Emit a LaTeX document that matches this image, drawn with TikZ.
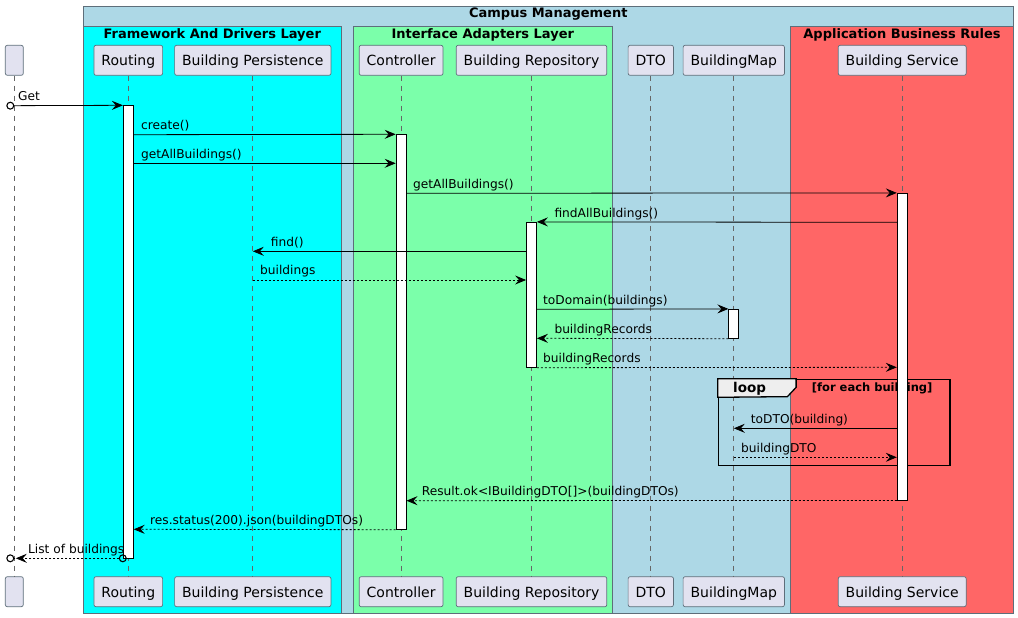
\documentclass[tikz,border=0pt]{standalone}
\usepackage{fontspec}
\setmainfont{DejaVu Sans}
\usetikzlibrary{arrows.meta,positioning}
\definecolor{campus}{HTML}{ADD8E6}
\definecolor{framework}{HTML}{00FFFF}
\definecolor{adapters}{HTML}{7BFFAA}
\definecolor{rules}{HTML}{FF6666}
\definecolor{partfill}{HTML}{E2E2F0}
\definecolor{tabfill}{HTML}{EEEEEE}
\definecolor{edge}{HTML}{5E6E7A}

\begin{document}
\begin{tikzpicture}[x=1pt,y=-1pt,
  msghead/.tip={Stealth[length=11pt,width=9pt,inset=4pt]},
  lost/.tip={Circle[open,length=8pt,width=8pt,line width=1.1pt]},
  layer/.style={draw=edge,line width=0.6pt},
  part/.style={draw=edge,fill=partfill,rounded corners=2pt,line width=0.7pt,minimum height=30pt,minimum width=18pt,inner xsep=7.5pt,text height=14pt,text depth=3.2pt,font=\fontsize{14}{16}\selectfont},
  life/.style={draw=black!60,line width=0.7pt,dash pattern=on 5pt off 5pt},
  act/.style={draw=black,fill=white,line width=0.8pt,minimum width=10pt,inner sep=0pt},
  msg/.style={line width=0.8pt,-{msghead}},
  reply/.style={msg,dash pattern=on 2pt off 2pt},
  lbl/.style={anchor=base west,inner sep=0pt,font=\fontsize{12.2}{14}\selectfont},
  title/.style={anchor=base,inner sep=0pt,font=\bfseries\fontsize{13}{15}\selectfont}]
  \useasboundingbox (0,0) rectangle (1018,618);
  \draw[layer,fill=campus] (83.3,6.3) rectangle (1013.3,613.3);
  \draw[layer,fill=framework] (83.3,26.3) rectangle (341.3,613.3);
  \draw[layer,fill=adapters] (353.3,26.3) rectangle (612.3,613.3);
  \draw[layer,fill=rules] (790.7,26.3) rectangle (1013.3,613.3);
  \node[title] (campusT) at (548.3,17.8) {Campus Management};
  \node[title] (frameworkT) at (212.3,38.8) {Framework And Drivers Layer};
  \node[title] (adaptersT) at (482.8,38.8) {Interface Adapters Layer};
  \node[title] (rulesT) at (902,38.8) {Application Business Rules};

  \foreach \n/\x/\t in {anon/14.3/{}, route/128.3/Routing, persist/252.8/Building Persistence, ctrl/401.1/Controller, repo/531.5/Building Repository, dto/650.8/DTO, map/733.8/BuildingMap, service/902.2/Building Service} {
    \node[part] (\n) at (\x,60.3) {\t};
    \node[part] (\n-end) at (\x,591.7) {\t};
    \draw[life] (\n) -- (\n-end);
  }

  \node[draw,line width=1.3pt,minimum width=231.7pt,minimum height=86.4pt,inner sep=0pt] (loop) at (834.2,422.5) {};
  \draw[line width=1.3pt,fill=tabfill] (loop.north west) -- ++(78.4,0) -- ++(0,8.7) -- ++(-8.7,9.3) -- (loop.north west |- 0,397.3) -- cycle;
  \node[anchor=base west,inner sep=0pt,font=\bfseries\fontsize{13.5}{15}\selectfont] (loopT) at (733,392.6) {loop};
  \node[anchor=base west,inner sep=0pt,font=\bfseries\fontsize{11.5}{13}\selectfont] (loopG) at (811.7,391.5) {[for each building]};

  \node[act,minimum height=452.6pt] (routeAct) at (route |- 0,332) {};
  \node[act,minimum height=394.6pt] (ctrlAct) at (ctrl |- 0,332) {};
  \node[act,minimum height=306.7pt] (serviceAct) at (service |- 0,346.65) {};
  \node[act,minimum height=145pt] (repoAct) at (repo |- 0,294.8) {};
  \node[act,minimum height=29pt] (mapAct) at (map |- 0,323.8) {};

  \coordinate (getStart) at (6.3,105.7);
  \coordinate (listStart) at (126.8,558.3);
  \coordinate (listEnd) at (6.3,558.3);

  \draw[msg,{lost}-{msghead}] (getStart) -- (routeAct.north west);
  \draw[msg] (routeAct.east |- 0,134.7) -- (ctrlAct.north west);
  \draw[msg] (routeAct.east |- 0,163.3) -- (ctrlAct.west |- 0,163.3);
  \draw[msg] (ctrlAct.east |- 0,193.3) -- (serviceAct.north west);
  \draw[msg] (serviceAct.west |- 0,222.3) -- (repoAct.north east);
  \draw[msg] (repoAct.west |- 0,251.3) -- (persist |- 0,251.3);
  \draw[reply] (persist |- 0,280) -- (repoAct.west |- 0,280);
  \draw[msg] (repoAct.east |- 0,309.3) -- (mapAct.north west);
  \draw[reply] (mapAct.south west) -- (repoAct.east |- 0,338.3);
  \draw[reply] (repoAct.south east) -- (serviceAct.west |- 0,367.3);
  \draw[msg] (serviceAct.west |- 0,428.3) -- (map |- 0,428.3);
  \draw[reply] (map |- 0,457.3) -- (serviceAct.west |- 0,457.3);
  \draw[reply] (serviceAct.south west) -- (ctrlAct.east |- 0,500.7);
  \draw[reply] (ctrlAct.south west) -- (routeAct.east |- 0,529.3);
  \draw[reply,{lost}-{msghead[sep=1.5pt] lost}] (listStart) -- (listEnd);

  \node[lbl] (getL) at (18,100.5) {Get};
  \node[lbl] (createL) at (141,129.3) {create()};
  \node[lbl] (allL) at (141,158) {getAllBuildings()};
  \node[lbl] (allServiceL) at (413,188) {getAllBuildings()};
  \node[lbl] (findAllL) at (554.3,217) {findAllBuildings()};
  \node[lbl] (findL) at (270.7,246) {find()};
  \node[lbl] (buildingsL) at (260,274.7) {buildings};
  \node[lbl] (toDomainL) at (543,304) {toDomain(buildings)};
  \node[lbl] (recordsL) at (554.3,333) {buildingRecords};
  \node[lbl] (recordsServiceL) at (543,362) {buildingRecords};
  \node[lbl] (toDTOL) at (750.7,423) {toDTO(building)};
  \node[lbl] (dtoL) at (741,452) {buildingDTO};
  \node[lbl] (resultL) at (421.7,495.4) {Result.ok<IBuildingDTO[]>(buildingDTOs)};
  \node[lbl] (resL) at (150,524) {res.status(200).json(buildingDTOs)};
  \node[lbl] (listL) at (28,553) {List of buildings};
\end{tikzpicture}
\end{document}
